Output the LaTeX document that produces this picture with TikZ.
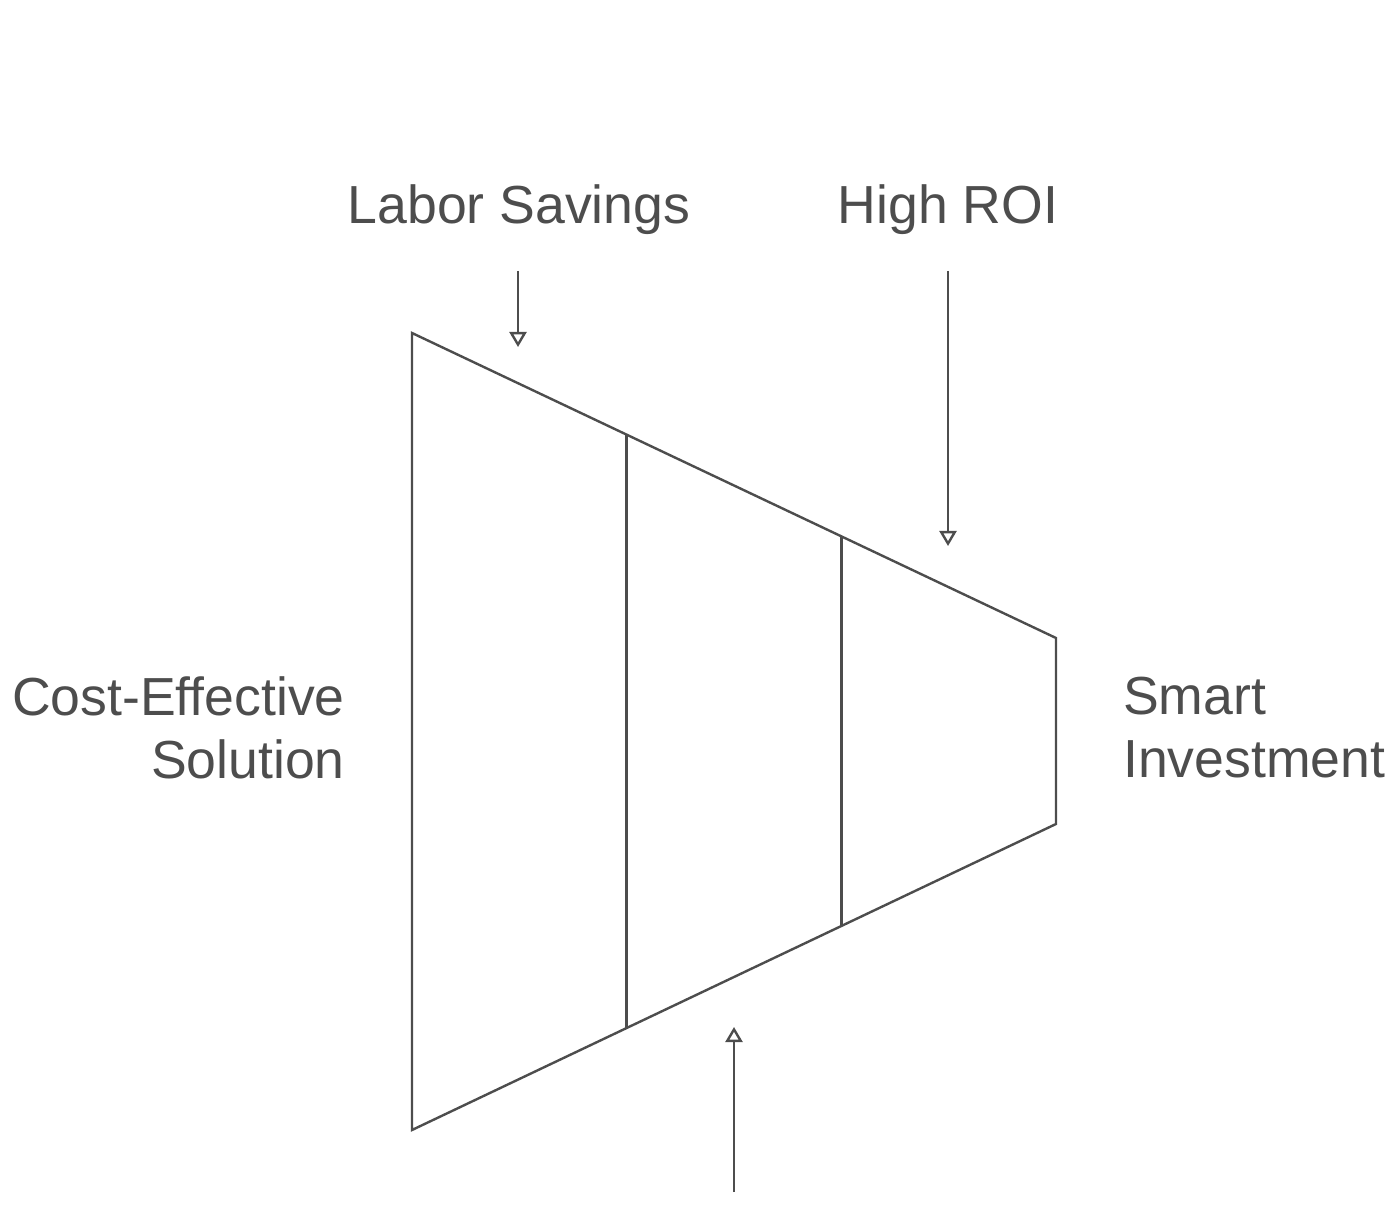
\documentclass[tikz,border=0pt]{standalone}
\usepackage{fontspec}
\setmainfont[Ligatures=CommonOff]{Liberation Sans}
\usetikzlibrary{arrows.meta,calc}
\definecolor{ink}{HTML}{4D4D4D}
\tikzset{
  lbl/.style={inner sep=0pt, text=ink, font=\fontsize{26.8}{31.5}\selectfont},
  feed/.style={-{Triangle[open, length=7.5pt, width=8.5pt]}, line width=1.2pt, draw=ink}
}
\begin{document}
\begin{tikzpicture}[x=0.5pt, y=-0.5pt, line width=1.2pt, draw=ink]
   \useasboundingbox (0,0) rectangle (1389,1225);
   % funnel corners
   \coordinate (TL) at (412,333);
   \coordinate (BL) at (412,1130);
   \coordinate (TR) at (1056,638);
   \coordinate (BR) at (1056,824);
   \draw[ink] (TL) -- (TR) -- (BR) -- (BL) -- cycle;
   \draw[ink] ($(TL)!1/3!(TR)$) coordinate (T1) -- ($(BL)!1/3!(BR)$) coordinate (B1);
   \draw[ink] ($(TL)!2/3!(TR)$) coordinate (T2) -- ($(BL)!2/3!(BR)$) coordinate (B2);
   % labels
   \node (L) [lbl, anchor=base] at (519,224) {Labor Savings};
   \node (H) [lbl, anchor=base] at (948,224) {High ROI};
   \node (C) [lbl, anchor=east, align=right] at (346,728) {Cost-Effective\\Solution};
   \node (S) [lbl, anchor=west, align=left] at (1122,728) {Smart\\Investment};
   % arrows
   \coordinate (Ls) at (518,271);
   \coordinate (Le) at (518,347);
   \coordinate (Hs) at (948,271);
   \coordinate (He) at (948,546);
   \coordinate (Us) at (734,1192);
   \coordinate (Ue) at (734,1027);
   \draw[feed] (Ls) -- (Le);
   \draw[feed] (Hs) -- (He);
   \draw[feed] (Us) -- (Ue);
\end{tikzpicture}
\end{document}
